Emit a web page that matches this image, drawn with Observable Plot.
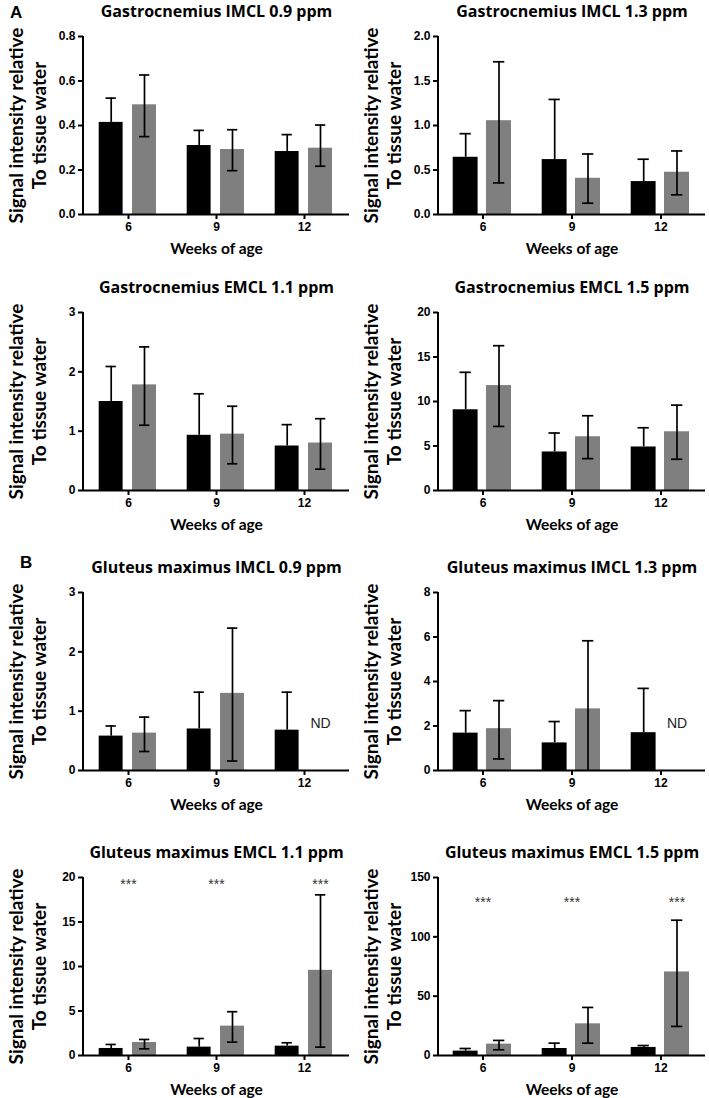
<!DOCTYPE html>
<html><head><meta charset="utf-8">
<script src="https://cdn.jsdelivr.net/npm/d3@7"></script>
<script src="https://cdn.jsdelivr.net/npm/@observablehq/plot@0.6"></script>
<style>
html,body{margin:0;padding:0;background:#fff;}
#root{position:relative;width:709px;height:1098px;overflow:hidden;background:#fff;}
.panel{position:absolute;}
.letter{position:absolute;font-family:"Liberation Sans",Arial,sans-serif;font-weight:bold;font-size:17px;line-height:1;}
</style></head><body><div id="root"></div>
<script>
const weeks = ["6", "9", "12"];
const titles = [
  "Gastrocnemius IMCL 0.9 ppm", "Gastrocnemius IMCL 1.3 ppm",
  "Gastrocnemius EMCL 1.1 ppm", "Gastrocnemius EMCL 1.5 ppm",
  "Gluteus maximus IMCL 0.9 ppm", "Gluteus maximus IMCL 1.3 ppm",
  "Gluteus maximus EMCL 1.1 ppm", "Gluteus maximus EMCL 1.5 ppm"
];
const yLabel = "Signal intensity relative\nTo tissue water";
const xLabel = "Weeks of age";
const yMax = [0.8, 2.0, 3, 20, 3, 8, 20, 150];
const yStep = [0.2, 0.5, 1, 5, 1, 2, 5, 50];
const yDecimals = [1, 1, 0, 0, 0, 0, 0, 0];
const blackMean = [
  [0.414, 0.310, 0.283],
  [0.643, 0.617, 0.370],
  [1.50, 0.93, 0.75],
  [9.07, 4.33, 4.89],
  [0.58, 0.70, 0.68],
  [1.68, 1.24, 1.70],
  [0.79, 0.94, 1.05],
  [3.7, 5.9, 6.8]
];
const blackUpper = [
  [0.523, 0.378, 0.359],
  [0.908, 1.293, 0.621],
  [2.09, 1.63, 1.11],
  [13.28, 6.46, 7.05],
  [0.75, 1.32, 1.32],
  [2.69, 2.20, 3.69],
  [1.24, 1.91, 1.43],
  [5.9, 10.4, 8.4]
];
const grayMean = [
  [0.493, 0.292, 0.298],
  [1.054, 0.407, 0.475],
  [1.78, 0.95, 0.80],
  [11.79, 6.04, 6.60],
  [0.63, 1.30, null],
  [1.88, 2.77, null],
  [1.46, 3.30, 9.57],
  [9.6, 26.7, 70.4]
];
const grayLower = [
  [0.350, 0.197, 0.217],
  [0.355, 0.127, 0.221],
  [1.10, 0.45, 0.36],
  [7.20, 3.58, 3.51],
  [0.32, 0.16, null],
  [0.52, 0, null],
  [0.75, 1.50, 0.94],
  [4.8, 10.4, 24.5]
];
const grayUpper = [
  [0.627, 0.381, 0.402],
  [1.716, 0.680, 0.714],
  [2.42, 1.42, 1.21],
  [16.27, 8.40, 9.59],
  [0.90, 2.40, null],
  [3.14, 5.83, null],
  [1.80, 4.92, 18.05],
  [12.7, 40.5, 114]
];
const ndLabelY = [null, null, null, null, 0.79, 2.1, null, null];
const starLabelY = [null, null, null, null, null, null, 19.2, 129];
const panelLetters = ["A", "B"];

const root = document.getElementById("root");
const axisTops = [36, 312, 592, 877];
const innerH = 178;
const TICK_FONT = "'Liberation Sans', Arial, sans-serif";
const LABEL_FONT = "Lato, 'Open Sans', sans-serif";
const TITLE_FONT = "'Open Sans', sans-serif";

for (let i = 0; i < 8; i++) {
  const col = i % 2, row = Math.floor(i / 2);
  const black = weeks.map((w, j) => ({week: w, mean: blackMean[i][j], hi: blackUpper[i][j]}));
  const gray = weeks.map((w, j) => ({week: w, mean: grayMean[i][j], lo: grayLower[i][j], hi: grayUpper[i][j]}))
    .filter(d => d.mean != null);
  const ticks = d3.range(0, yMax[i] + yStep[i] / 2, yStep[i]);
  const fmt = d3.format(yDecimals[i] ? ".1f" : "d");
  const width = col ? 354 : 355;
  const mL = 83, mR = col ? 4 : 6, mT = 36, mB = 46;
  const marks = [
    Plot.barY(black, {x: "week", y: "mean", fill: "#000", insetLeft: 14.7, insetRight: 49.4}),
    Plot.barY(gray, {x: "week", y: "mean", fill: "#7f7f7f", insetLeft: 48, insetRight: 16}),
    Plot.ruleX(black, {x: "week", y1: "mean", y2: "hi", dx: -17.3, stroke: "#000", strokeWidth: 1.7}),
    Plot.tickY(black, {x: "week", y: "hi", insetLeft: 21.5, insetRight: 56.2, stroke: "#000", strokeWidth: 1.7}),
    Plot.ruleX(gray, {x: "week", y1: "lo", y2: "hi", dx: 16, stroke: "#000", strokeWidth: 1.7}),
    Plot.tickY(gray, {x: "week", y: "hi", insetLeft: 55, insetRight: 22.7, stroke: "#000", strokeWidth: 1.7}),
    Plot.tickY(gray.filter(d => d.lo > 0), {x: "week", y: "lo", insetLeft: 55, insetRight: 22.7, stroke: "#000", strokeWidth: 1.7}),
    Plot.ruleY([0], {stroke: "#000", strokeWidth: 2}),
    Plot.axisY({ticks, tickFormat: fmt, tickSize: 5, tickPadding: 3, strokeWidth: 2, label: null}),
    Plot.axisX({tickSize: 5, tickPadding: 3, strokeWidth: 2, label: null}),
    Plot.text([titles[i]], {frameAnchor: "top", dy: -25, lineAnchor: "middle", textAnchor: "middle", fontFamily: TITLE_FONT, fontSize: 16, fontWeight: "bold", fill: "#000"}),
    Plot.text([xLabel], {frameAnchor: "bottom", dy: 35, lineAnchor: "middle", textAnchor: "middle", fontFamily: LABEL_FONT, fontSize: 15.5, fontWeight: "bold", fill: "#000"}),
    Plot.text([yLabel], {frameAnchor: "left", dx: -56.5, rotate: -90, textAnchor: "middle", lineAnchor: "middle", lineHeight: 1.2, fontFamily: LABEL_FONT, fontSize: 19, fontWeight: "bold", fill: "#000"})
  ];
  if (ndLabelY[i] != null) {
    marks.push(Plot.text([{week: "12", v: ndLabelY[i]}], {x: "week", y: "v", text: () => "ND", dx: 16, fontFamily: TICK_FONT, fontSize: 14, fontWeight: "normal", fill: "#222"}));
  }
  if (starLabelY[i] != null) {
    marks.push(Plot.text(weeks.slice(0, 2).map(w => ({week: w, v: starLabelY[i]})), {x: "week", y: "v", text: () => "***", fontFamily: TICK_FONT, fontSize: 14, fontWeight: "normal", fill: "#333"}));
    marks.push(Plot.text([{week: "12", v: starLabelY[i]}], {x: "week", y: "v", text: () => "***", dx: 16, fontFamily: TICK_FONT, fontSize: 14, fontWeight: "normal", fill: "#333"}));
  }
  const svg = Plot.plot({
    width, height: mT + innerH + mB,
    marginLeft: mL, marginRight: mR, marginTop: mT, marginBottom: mB,
    style: {fontFamily: TICK_FONT, fontSize: "12px", fontWeight: "bold", color: "#000", background: "transparent", overflow: "visible"},
    x: {type: "band", domain: weeks, padding: 0, label: null},
    y: {domain: [0, yMax[i]], label: null},
    marks
  });
  d3.select(svg).append("line")
    .attr("x1", mL).attr("x2", mL).attr("y1", mT).attr("y2", mT + innerH + 1)
    .attr("stroke", "#000").attr("stroke-width", 2);
  const div = document.createElement("div");
  div.className = "panel";
  div.style.left = (col ? 355 : 0) + "px";
  div.style.top = (axisTops[row] - mT) + "px";
  div.appendChild(svg);
  root.appendChild(div);
}
const letterPos = [[10, 4], [20, 554]];
panelLetters.forEach((t, k) => {
  const d = document.createElement("div");
  d.className = "letter";
  d.textContent = t;
  d.style.left = letterPos[k][0] + "px";
  d.style.top = letterPos[k][1] + "px";
  root.appendChild(d);
});
</script></body></html>
